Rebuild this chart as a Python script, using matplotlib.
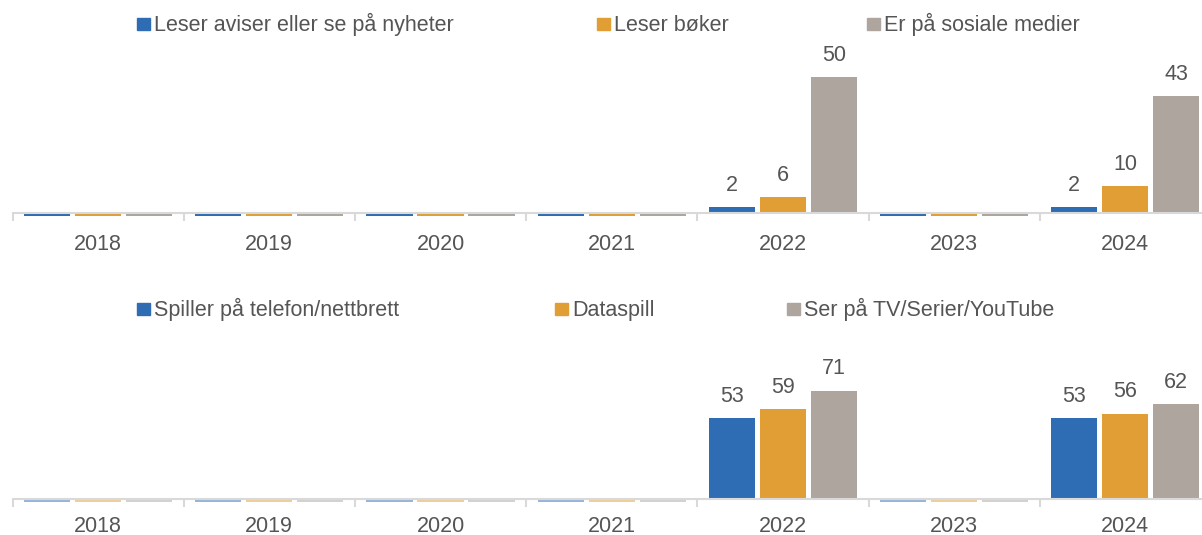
import matplotlib
import numpy as np

matplotlib.use("Agg")
import matplotlib.pyplot as plt
from matplotlib.patches import Rectangle

years = ["2018", "2019", "2020", "2021", "2022", "2023", "2024"]

top_labels = ["Leser aviser eller se på nyheter", "Leser bøker", "Er på sosiale medier"]
news = [0, 0, 0, 0, 2, 0, 2]
books = [0, 0, 0, 0, 6, 0, 10]
social = [0, 0, 0, 0, 50, 0, 43]

bottom_labels = ["Spiller på telefon/nettbrett", "Dataspill", "Ser på TV/Serier/YouTube"]
mobile_games = [0, 0, 0, 0, 53, 0, 53]
pc_games = [0, 0, 0, 0, 59, 0, 56]
tv = [0, 0, 0, 0, 71, 0, 62]

colors = ["#2E6DB4", "#E09E35", "#ADA59E"]
text_color = "#555555"
axis_color = "#D9D9D9"
fs = 15.5
W, H = 1202, 535

plt.rcParams["font.family"] = ["Liberation Sans", "DejaVu Sans"]


def legend_row(fig, xs, y, labels):
    # square swatch plus label; y is the swatch centre in pixels from the top
    for lx, lab, col in zip(xs, labels, colors):
        fig.add_artist(Rectangle((lx / W, 1 - (y + 6.5) / H), 12.5 / W, 12.5 / H,
                                 transform=fig.transFigure, color=col))
        fig.text((lx + 17) / W, 1 - (y + 7.5) / H, lab, fontsize=fs,
                 color=text_color, ha="left", va="baseline")


def draw_panel(ax, series, ymax, zero_alpha, pad):
    x = np.arange(len(years))
    step = 0.298
    width = 0.27
    stub = -0.02 * ymax  # thin stub for years without data
    for i, (vals, col) in enumerate(zip(series, colors)):
        pos = x + (i - 1) * step
        vals = np.array(vals, dtype=float)
        has = vals > 0
        bars = ax.bar(pos[has], vals[has], width, color=col)
        ax.bar(pos[~has], np.full((~has).sum(), stub), width, color=col,
               alpha=zero_alpha, clip_on=False)
        for b, v in zip(bars, vals[has]):
            ax.annotate("%d" % v, (b.get_x() + b.get_width() / 2, v),
                        xytext=(0, 8), textcoords="offset points",
                        ha="center", va="bottom", fontsize=fs, color=text_color)
    for s in ["top", "right", "left"]:
        ax.spines[s].set_visible(False)
    ax.spines["bottom"].set_color(axis_color)
    ax.spines["bottom"].set_linewidth(1.5)
    ax.set_yticks([])
    ax.set_xticks(x)
    ax.set_xticklabels(years, fontsize=fs, color=text_color)
    ax.tick_params(axis="x", which="major", length=0, pad=pad)
    ax.set_xticks(np.arange(len(years) + 1) - 0.5, minor=True)
    ax.tick_params(axis="x", which="minor", length=6, width=1.5, color=axis_color)
    ax.set_xlim(-0.5, 6.448)
    ax.set_ylim(0, ymax)


fig = plt.figure(figsize=(W / 100, H / 100), dpi=100)
ax1 = fig.add_axes([0.0104, 0.602, 0.9896, 0.305])
ax2 = fig.add_axes([0.0104, 0.067, 0.9896, 0.243])

draw_panel(ax1, [news, books, social], 60, 1.0, 15)
draw_panel(ax2, [mobile_games, pc_games, tv], 85, 0.5, 12)
legend_row(fig, [137, 597, 867], 23.5, top_labels)
legend_row(fig, [137, 555, 787], 308.5, bottom_labels)

fig.savefig("out.png", dpi=100)
